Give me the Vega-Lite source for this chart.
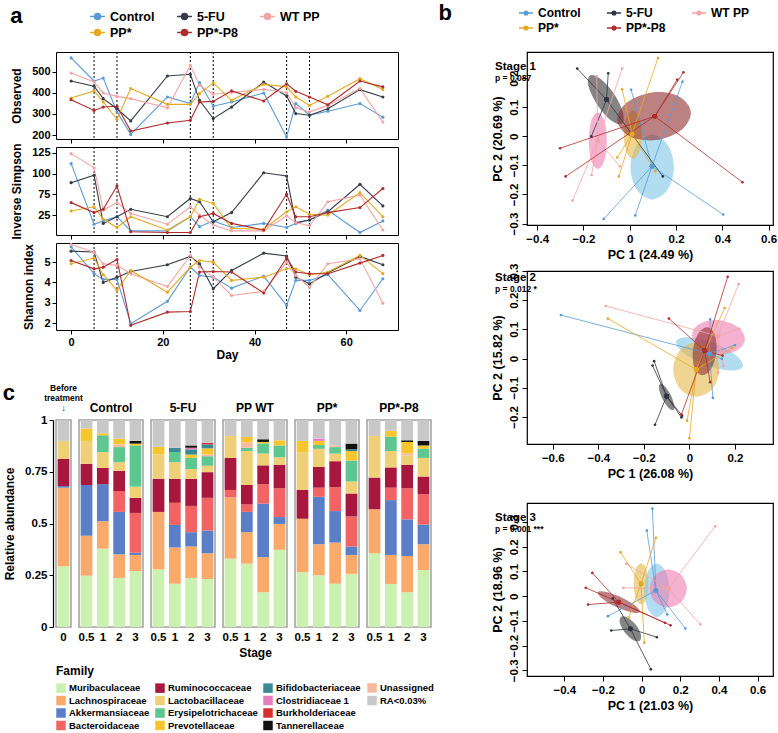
{
"$schema":"https://vega.github.io/schema/vega-lite/v6.json",
"padding":{"left":2,"top":2,"right":2,"bottom":2},
"background":"white",
"config":{
 "font":"Liberation Sans",
 "view":{"stroke":null},
 "axis":{"grid":false,"domain":false,"labelFontWeight":"bold","labelFontSize":11,"labelColor":"black","titleFontWeight":"bold","titleFontSize":12,"titleColor":"black","tickColor":"black","tickSize":4,"labelPadding":2},
 "axisY":{"labelOverlap":false},
 "legend":{"labelFontWeight":"bold","labelColor":"black","titleColor":"black","titleFontWeight":"bold","layout":{"top":{"anchor":"middle"},"bottom":{"anchor":"start","direction":"horizontal","margin":6}}},
 "title":{"color":"black","fontWeight":"bold","subtitleColor":"black"}
},
"datasets":{
 "stages":[{"d":5},{"d":10},{"d":26},{"d":31},{"d":47},{"d":52}],
 "alpha":[
{"d":0,"g":"Control","o":567,"i":112,"s":5.75},{"d":5,"g":"Control","o":457,"i":39,"s":4.43},{"d":7,"g":"Control","o":471,"i":43,"s":4.15},{"d":10,"g":"Control","o":310,"i":48,"s":4.15},{"d":13,"g":"Control","o":203,"i":31,"s":1.97},{"d":21,"g":"Control","o":381,"i":31,"s":3.07},{"d":26,"g":"Control","o":350,"i":48,"s":4.75},{"d":28,"g":"Control","o":450,"i":36,"s":4.34},{"d":31,"g":"Control","o":337,"i":43,"s":4.26},{"d":35,"g":"Control","o":357,"i":35,"s":3.72},{"d":42,"g":"Control","o":400,"i":40,"s":4.31},{"d":47,"g":"Control","o":190,"i":35,"s":2.87},{"d":49,"g":"Control","o":350,"i":40,"s":4.1},{"d":52,"g":"Control","o":295,"i":44,"s":4.1},{"d":56,"g":"Control","o":313,"i":56,"s":4.38},{"d":63,"g":"Control","o":350,"i":29,"s":2.62},{"d":68,"g":"Control","o":285,"i":43,"s":4.18},
{"d":0,"g":"5-FU","o":457,"i":89,"s":5.54},{"d":5,"g":"5-FU","o":432,"i":98,"s":5.5},{"d":7,"g":"5-FU","o":373,"i":40,"s":4.0},{"d":10,"g":"5-FU","o":325,"i":48,"s":4.26},{"d":13,"g":"5-FU","o":267,"i":57,"s":4.54},{"d":21,"g":"5-FU","o":481,"i":48,"s":4.87},{"d":26,"g":"5-FU","o":489,"i":70,"s":5.28},{"d":28,"g":"5-FU","o":365,"i":66,"s":4.92},{"d":31,"g":"5-FU","o":278,"i":42,"s":3.69},{"d":35,"g":"5-FU","o":333,"i":53,"s":4.59},{"d":42,"g":"5-FU","o":452,"i":101,"s":5.44},{"d":47,"g":"5-FU","o":386,"i":97,"s":5.3},{"d":49,"g":"5-FU","o":302,"i":41,"s":4.26},{"d":52,"g":"5-FU","o":294,"i":44,"s":3.93},{"d":56,"g":"5-FU","o":325,"i":54,"s":4.48},{"d":63,"g":"5-FU","o":416,"i":87,"s":5.28},{"d":68,"g":"5-FU","o":381,"i":61,"s":4.87},
{"d":0,"g":"WT PP","o":495,"i":124,"s":5.87},{"d":5,"g":"WT PP","o":452,"i":107,"s":5.49},{"d":7,"g":"WT PP","o":400,"i":56,"s":4.92},{"d":10,"g":"WT PP","o":384,"i":65,"s":4.84},{"d":13,"g":"WT PP","o":373,"i":52,"s":4.43},{"d":21,"g":"WT PP","o":329,"i":39,"s":3.8},{"d":26,"g":"WT PP","o":532,"i":60,"s":5.33},{"d":28,"g":"WT PP","o":437,"i":50,"s":4.75},{"d":31,"g":"WT PP","o":394,"i":38,"s":4.26},{"d":35,"g":"WT PP","o":402,"i":31,"s":3.36},{"d":42,"g":"WT PP","o":417,"i":31,"s":3.56},{"d":47,"g":"WT PP","o":402,"i":49,"s":5.0},{"d":49,"g":"WT PP","o":329,"i":41,"s":4.34},{"d":52,"g":"WT PP","o":310,"i":37,"s":3.77},{"d":56,"g":"WT PP","o":341,"i":66,"s":4.92},{"d":63,"g":"WT PP","o":421,"i":74,"s":5.16},{"d":68,"g":"WT PP","o":262,"i":32,"s":2.98},
{"d":0,"g":"PP*","o":376,"i":55,"s":4.92},{"d":5,"g":"PP*","o":410,"i":60,"s":5.2},{"d":7,"g":"PP*","o":357,"i":45,"s":4.38},{"d":10,"g":"PP*","o":275,"i":35,"s":3.61},{"d":13,"g":"PP*","o":421,"i":48,"s":4.59},{"d":21,"g":"PP*","o":346,"i":32,"s":3.52},{"d":26,"g":"PP*","o":346,"i":48,"s":4.75},{"d":28,"g":"PP*","o":397,"i":69,"s":5.08},{"d":31,"g":"PP*","o":448,"i":64,"s":5.0},{"d":35,"g":"PP*","o":365,"i":34,"s":4.1},{"d":42,"g":"PP*","o":441,"i":33,"s":4.26},{"d":47,"g":"PP*","o":429,"i":54,"s":4.67},{"d":49,"g":"PP*","o":381,"i":60,"s":4.67},{"d":52,"g":"PP*","o":341,"i":51,"s":4.38},{"d":56,"g":"PP*","o":384,"i":50,"s":4.51},{"d":63,"g":"PP*","o":468,"i":77,"s":5.33},{"d":68,"g":"PP*","o":416,"i":48,"s":4.43},
{"d":0,"g":"PP*-P8","o":368,"i":65,"s":5.08},{"d":5,"g":"PP*-P8","o":317,"i":53,"s":4.67},{"d":7,"g":"PP*-P8","o":333,"i":57,"s":4.75},{"d":10,"g":"PP*-P8","o":337,"i":85,"s":5.13},{"d":13,"g":"PP*-P8","o":219,"i":30,"s":1.89},{"d":21,"g":"PP*-P8","o":257,"i":29,"s":2.54},{"d":26,"g":"PP*-P8","o":270,"i":29,"s":2.57},{"d":28,"g":"PP*-P8","o":357,"i":48,"s":4.51},{"d":31,"g":"PP*-P8","o":360,"i":52,"s":4.54},{"d":35,"g":"PP*-P8","o":410,"i":40,"s":4.51},{"d":42,"g":"PP*-P8","o":362,"i":32,"s":3.48},{"d":47,"g":"PP*-P8","o":444,"i":75,"s":5.2},{"d":49,"g":"PP*-P8","o":408,"i":48,"s":4.51},{"d":52,"g":"PP*-P8","o":381,"i":48,"s":4.43},{"d":56,"g":"PP*-P8","o":344,"i":53,"s":4.43},{"d":63,"g":"PP*-P8","o":457,"i":59,"s":4.95},{"d":68,"g":"PP*-P8","o":429,"i":82,"s":5.33}
 ],
 "fam":[
{"key":"Mur","family":"Muribaculaceae","ord":0},{"key":"Lach","family":"Lachnospiraceae","ord":1},{"key":"Akk","family":"Akkermansiaceae","ord":2},{"key":"Bact","family":"Bacteroidaceae","ord":3},{"key":"Rum","family":"Ruminococcaceae","ord":4},{"key":"Lacto","family":"Lactobacillaceae","ord":5},{"key":"Ery","family":"Erysipelotrichaceae","ord":6},{"key":"Unass","family":"Unassigned","ord":7},{"key":"Prev","family":"Prevotellaceae","ord":8},{"key":"Bif","family":"Bifidobacteriaceae","ord":9},{"key":"Clos","family":"Clostridiaceae 1","ord":10},{"key":"Burk","family":"Burkholderiaceae","ord":11},{"key":"Tann","family":"Tannerellaceae","ord":12},{"key":"RA","family":"RA<0.03%","ord":13}
 ],
 "bars":[
{"g":"Before","s":"0","Mur":0.294,"Lach":0.379,"Akk":0.008,"Rum":0.131,"Lacto":0.087,"RA":0.101},
{"g":"Control","s":"0.5","Mur":0.248,"Lach":0.193,"Akk":0.245,"Rum":0.102,"Lacto":0.111,"Prev":0.06,"RA":0.041},
{"g":"Control","s":"1","Mur":0.379,"Lach":0.132,"Akk":0.179,"Rum":0.078,"Lacto":0.077,"Ery":0.081,"Prev":0.01,"RA":0.064},
{"g":"Control","s":"2","Mur":0.237,"Lach":0.114,"Akk":0.205,"Bact":0.101,"Rum":0.098,"Lacto":0.041,"Ery":0.073,"Unass":0.013,"Prev":0.028,"RA":0.09},
{"g":"Control","s":"3","Mur":0.27,"Lach":0.078,"Akk":0.011,"Bact":0.192,"Rum":0.073,"Lacto":0.054,"Ery":0.199,"Prev":0.009,"Tann":0.013,"RA":0.101},
{"g":"5-FU","s":"0.5","Mur":0.278,"Lach":0.278,"Rum":0.16,"Lacto":0.118,"Prev":0.036,"RA":0.13},
{"g":"5-FU","s":"1","Mur":0.209,"Lach":0.175,"Akk":0.109,"Bact":0.107,"Rum":0.116,"Lacto":0.08,"Ery":0.049,"Bif":0.021,"RA":0.134},
{"g":"5-FU","s":"2","Mur":0.237,"Lach":0.152,"Akk":0.069,"Bact":0.127,"Rum":0.131,"Lacto":0.047,"Ery":0.054,"Prev":0.016,"Bif":0.025,"Clos":0.008,"Tann":0.011,"RA":0.123},
{"g":"5-FU","s":"3","Mur":0.232,"Lach":0.124,"Akk":0.11,"Bact":0.158,"Rum":0.124,"Lacto":0.031,"Ery":0.046,"Unass":0.008,"Prev":0.03,"Bif":0.019,"Burk":0.008,"RA":0.11},
{"g":"PP WT","s":"0.5","Mur":0.33,"Lach":0.296,"Bact":0.036,"Rum":0.155,"Lacto":0.106,"RA":0.077},
{"g":"PP WT","s":"1","Mur":0.306,"Lach":0.152,"Akk":0.098,"Bact":0.036,"Rum":0.094,"Lacto":0.164,"Ery":0.016,"Unass":0.025,"Prev":0.027,"RA":0.082},
{"g":"PP WT","s":"2","Mur":0.168,"Lach":0.17,"Akk":0.258,"Bact":0.094,"Rum":0.091,"Lacto":0.057,"Ery":0.049,"Prev":0.007,"Tann":0.013,"RA":0.093},
{"g":"PP WT","s":"3","Mur":0.373,"Lach":0.125,"Akk":0.033,"Bact":0.139,"Rum":0.114,"Lacto":0.036,"Ery":0.057,"Prev":0.025,"RA":0.098},
{"g":"PP*","s":"0.5","Mur":0.265,"Lach":0.258,"Rum":0.139,"Lacto":0.183,"Prev":0.054,"RA":0.101},
{"g":"PP*","s":"1","Mur":0.25,"Lach":0.15,"Akk":0.229,"Bact":0.044,"Rum":0.1,"Lacto":0.088,"Ery":0.018,"Prev":0.02,"Clos":0.011,"RA":0.09},
{"g":"PP*","s":"2","Mur":0.209,"Lach":0.199,"Akk":0.152,"Bact":0.115,"Rum":0.126,"Lacto":0.037,"Ery":0.031,"Unass":0.008,"RA":0.123},
{"g":"PP*","s":"3","Mur":0.257,"Lach":0.091,"Akk":0.041,"Bact":0.145,"Rum":0.111,"Lacto":0.058,"Ery":0.101,"Prev":0.046,"Bif":0.008,"Tann":0.028,"RA":0.114},
{"g":"PP*-P8","s":"0.5","Mur":0.356,"Lach":0.213,"Rum":0.153,"Lacto":0.201,"RA":0.077},
{"g":"PP*-P8","s":"1","Mur":0.208,"Lach":0.14,"Akk":0.265,"Bact":0.06,"Rum":0.098,"Lacto":0.079,"Ery":0.07,"Prev":0.028,"RA":0.052},
{"g":"PP*-P8","s":"2","Mur":0.168,"Lach":0.175,"Akk":0.177,"Bact":0.15,"Rum":0.114,"Lacto":0.044,"Unass":0.01,"Prev":0.056,"Tann":0.008,"RA":0.098},
{"g":"PP*-P8","s":"3","Mur":0.275,"Lach":0.125,"Akk":0.095,"Bact":0.147,"Rum":0.085,"Lacto":0.09,"Ery":0.044,"Prev":0.016,"Tann":0.022,"RA":0.101}
 ],
 "pc":[
{"st":1,"g":"Control","x":0.006,"y":0.16,"cx":0.096,"cy":-0.103},{"st":1,"g":"Control","x":0.228,"y":0.188,"cx":0.096,"cy":-0.103},{"st":1,"g":"Control","x":-0.112,"y":-0.284,"cx":0.096,"cy":-0.103},{"st":1,"g":"Control","x":0.024,"y":-0.272,"cx":0.096,"cy":-0.103},{"st":1,"g":"Control","x":0.404,"y":-0.269,"cx":0.096,"cy":-0.103},
{"st":1,"g":"5-FU","x":-0.227,"y":0.233,"cx":-0.1,"cy":0.126},{"st":1,"g":"5-FU","x":-0.093,"y":0.217,"cx":-0.1,"cy":0.126},{"st":1,"g":"5-FU","x":-0.166,"y":0.0,"cx":-0.1,"cy":0.126},{"st":1,"g":"5-FU","x":0.143,"y":-0.138,"cx":-0.1,"cy":0.126},
{"st":1,"g":"WT PP","x":-0.033,"y":0.233,"cx":-0.138,"cy":-0.015},{"st":1,"g":"WT PP","x":-0.143,"y":0.206,"cx":-0.138,"cy":-0.015},{"st":1,"g":"WT PP","x":-0.165,"y":-0.133,"cx":-0.138,"cy":-0.015},{"st":1,"g":"WT PP","x":-0.247,"y":-0.221,"cx":-0.138,"cy":-0.015},{"st":1,"g":"WT PP","x":-0.043,"y":-0.103,"cx":-0.138,"cy":-0.015},
{"st":1,"g":"PP*","x":0.122,"y":0.269,"cx":0.01,"cy":0.008},{"st":1,"g":"PP*","x":-0.033,"y":0.162,"cx":0.01,"cy":0.008},{"st":1,"g":"PP*","x":-0.054,"y":-0.073,"cx":0.01,"cy":0.008},{"st":1,"g":"PP*","x":-0.047,"y":-0.138,"cx":0.01,"cy":0.008},{"st":1,"g":"PP*","x":0.11,"y":-0.12,"cx":0.01,"cy":0.008},
{"st":1,"g":"PP*-P8","x":0.232,"y":0.22,"cx":0.108,"cy":0.069},{"st":1,"g":"PP*-P8","x":0.205,"y":0.195,"cx":0.108,"cy":0.069},{"st":1,"g":"PP*-P8","x":-0.301,"y":-0.041,"cx":0.108,"cy":0.069},{"st":1,"g":"PP*-P8","x":-0.277,"y":-0.138,"cx":0.108,"cy":0.069},{"st":1,"g":"PP*-P8","x":0.487,"y":-0.158,"cx":0.108,"cy":0.069},
{"st":2,"g":"Control","x":-0.564,"y":0.149,"cx":0.088,"cy":0.016},{"st":2,"g":"Control","x":0.2,"y":0.046,"cx":0.088,"cy":0.016},{"st":2,"g":"Control","x":0.091,"y":0.134,"cx":0.088,"cy":0.016},{"st":2,"g":"Control","x":0.103,"y":-0.135,"cx":0.088,"cy":0.016},{"st":2,"g":"Control","x":0.142,"y":-0.001,"cx":0.088,"cy":0.016},
{"st":2,"g":"5-FU","x":-0.155,"y":-0.009,"cx":-0.1,"cy":-0.129},{"st":2,"g":"5-FU","x":-0.162,"y":-0.024,"cx":-0.1,"cy":-0.129},{"st":2,"g":"5-FU","x":-0.151,"y":-0.227,"cx":-0.1,"cy":-0.129},{"st":2,"g":"5-FU","x":-0.035,"y":-0.202,"cx":-0.1,"cy":-0.129},{"st":2,"g":"5-FU","x":-0.032,"y":-0.196,"cx":-0.1,"cy":-0.129},
{"st":2,"g":"WT PP","x":-0.367,"y":0.18,"cx":0.125,"cy":0.077},{"st":2,"g":"WT PP","x":0.216,"y":0.255,"cx":0.125,"cy":0.077},{"st":2,"g":"WT PP","x":0.219,"y":0.102,"cx":0.125,"cy":0.077},{"st":2,"g":"WT PP","x":0.149,"y":-0.026,"cx":0.125,"cy":0.077},{"st":2,"g":"WT PP","x":0.125,"y":-0.049,"cx":0.125,"cy":0.077},
{"st":2,"g":"PP*","x":-0.358,"y":0.137,"cx":0.03,"cy":-0.038},{"st":2,"g":"PP*","x":-0.01,"y":-0.213,"cx":0.03,"cy":-0.038},{"st":2,"g":"PP*","x":0.0,"y":-0.273,"cx":0.03,"cy":-0.038},{"st":2,"g":"PP*","x":0.155,"y":0.173,"cx":0.03,"cy":-0.038},{"st":2,"g":"PP*","x":0.188,"y":0.037,"cx":0.03,"cy":-0.038},
{"st":2,"g":"PP*-P8","x":-0.09,"y":0.137,"cx":0.067,"cy":0.027},{"st":2,"g":"PP*-P8","x":0.168,"y":0.28,"cx":0.067,"cy":0.027},{"st":2,"g":"PP*-P8","x":0.146,"y":0.01,"cx":0.067,"cy":0.027},{"st":2,"g":"PP*-P8","x":0.091,"y":-0.081,"cx":0.067,"cy":0.027},{"st":2,"g":"PP*-P8","x":-0.035,"y":-0.192,"cx":0.067,"cy":0.027},
{"st":3,"g":"Control","x":0.056,"y":0.354,"cx":0.074,"cy":0.023},{"st":3,"g":"Control","x":0.027,"y":0.265,"cx":0.074,"cy":0.023},{"st":3,"g":"Control","x":-0.174,"y":-0.081,"cx":0.074,"cy":0.023},{"st":3,"g":"Control","x":0.227,"y":-0.131,"cx":0.074,"cy":0.023},{"st":3,"g":"Control","x":0.133,"y":-0.074,"cx":0.074,"cy":0.023},
{"st":3,"g":"5-FU","x":-0.149,"y":-0.009,"cx":-0.058,"cy":-0.132},{"st":3,"g":"5-FU","x":-0.157,"y":-0.139,"cx":-0.058,"cy":-0.132},{"st":3,"g":"5-FU","x":0.079,"y":-0.166,"cx":-0.058,"cy":-0.132},{"st":3,"g":"5-FU","x":0.048,"y":-0.296,"cx":-0.058,"cy":-0.132},
{"st":3,"g":"WT PP","x":0.381,"y":0.283,"cx":0.138,"cy":0.03},{"st":3,"g":"WT PP","x":-0.08,"y":0.131,"cx":0.138,"cy":0.03},{"st":3,"g":"WT PP","x":-0.094,"y":0.034,"cx":0.138,"cy":0.03},{"st":3,"g":"WT PP","x":0.304,"y":-0.114,"cx":0.138,"cy":0.03},
{"st":3,"g":"PP*","x":-0.109,"y":0.178,"cx":-0.003,"cy":0.05},{"st":3,"g":"PP*","x":0.074,"y":0.236,"cx":-0.003,"cy":0.05},{"st":3,"g":"PP*","x":0.014,"y":-0.188,"cx":-0.003,"cy":0.05},{"st":3,"g":"PP*","x":-0.067,"y":-0.087,"cx":-0.003,"cy":0.05},
{"st":3,"g":"PP*-P8","x":-0.255,"y":0.094,"cx":-0.118,"cy":-0.024},{"st":3,"g":"PP*-P8","x":-0.289,"y":0.034,"cx":-0.118,"cy":-0.024},{"st":3,"g":"PP*-P8","x":-0.277,"y":-0.034,"cx":-0.118,"cy":-0.024},{"st":3,"g":"PP*-P8","x":0.15,"y":-0.118,"cx":-0.118,"cy":-0.024},{"st":3,"g":"PP*-P8","x":0.121,"y":-0.108,"cx":-0.118,"cy":-0.024}
 ],
 "ell":[
{"st":1,"g":"Control","k":0,"x":0.191,"y":-0.106},{"st":1,"g":"Control","k":1,"x":0.163,"y":-0.028},{"st":1,"g":"Control","k":2,"x":0.097,"y":0.005},{"st":1,"g":"Control","k":3,"x":0.031,"y":-0.028},{"st":1,"g":"Control","k":4,"x":0.003,"y":-0.106},{"st":1,"g":"Control","k":5,"x":0.031,"y":-0.184},{"st":1,"g":"Control","k":6,"x":0.097,"y":-0.217},{"st":1,"g":"Control","k":7,"x":0.163,"y":-0.184},
{"st":1,"g":"5-FU","k":0,"x":-0.034,"y":0.043},{"st":1,"g":"5-FU","k":1,"x":-0.029,"y":0.081},{"st":1,"g":"5-FU","k":2,"x":-0.067,"y":0.145},{"st":1,"g":"5-FU","k":3,"x":-0.127,"y":0.198},{"st":1,"g":"5-FU","k":4,"x":-0.172,"y":0.209},{"st":1,"g":"5-FU","k":5,"x":-0.178,"y":0.171},{"st":1,"g":"5-FU","k":6,"x":-0.139,"y":0.107},{"st":1,"g":"5-FU","k":7,"x":-0.08,"y":0.054},
{"st":1,"g":"WT PP","k":0,"x":-0.099,"y":-0.015},{"st":1,"g":"WT PP","k":1,"x":-0.11,"y":0.054},{"st":1,"g":"WT PP","k":2,"x":-0.138,"y":0.082},{"st":1,"g":"WT PP","k":3,"x":-0.166,"y":0.054},{"st":1,"g":"WT PP","k":4,"x":-0.177,"y":-0.015},{"st":1,"g":"WT PP","k":5,"x":-0.166,"y":-0.084},{"st":1,"g":"WT PP","k":6,"x":-0.138,"y":-0.112},{"st":1,"g":"WT PP","k":7,"x":-0.11,"y":-0.084},
{"st":1,"g":"PP*","k":0,"x":0.052,"y":0.006},{"st":1,"g":"PP*","k":1,"x":0.041,"y":0.065},{"st":1,"g":"PP*","k":2,"x":0.013,"y":0.089},{"st":1,"g":"PP*","k":3,"x":-0.015,"y":0.065},{"st":1,"g":"PP*","k":4,"x":-0.026,"y":0.006},{"st":1,"g":"PP*","k":5,"x":-0.015,"y":-0.053},{"st":1,"g":"PP*","k":6,"x":0.013,"y":-0.077},{"st":1,"g":"PP*","k":7,"x":0.041,"y":-0.053},
{"st":1,"g":"PP*-P8","k":0,"x":0.264,"y":0.084},{"st":1,"g":"PP*-P8","k":1,"x":0.211,"y":0.138},{"st":1,"g":"PP*-P8","k":2,"x":0.097,"y":0.151},{"st":1,"g":"PP*-P8","k":3,"x":-0.013,"y":0.116},{"st":1,"g":"PP*-P8","k":4,"x":-0.054,"y":0.054},{"st":1,"g":"PP*-P8","k":5,"x":-0.001,"y":0.0},{"st":1,"g":"PP*-P8","k":6,"x":0.113,"y":-0.013},{"st":1,"g":"PP*-P8","k":7,"x":0.223,"y":0.022},
{"st":2,"g":"Control","k":0,"x":0.234,"y":-0.028},{"st":2,"g":"Control","k":1,"x":0.204,"y":0.011},{"st":2,"g":"Control","k":2,"x":0.106,"y":0.053},{"st":2,"g":"Control","k":3,"x":-0.002,"y":0.073},{"st":2,"g":"Control","k":4,"x":-0.058,"y":0.06},{"st":2,"g":"Control","k":5,"x":-0.028,"y":0.021},{"st":2,"g":"Control","k":6,"x":0.07,"y":-0.021},{"st":2,"g":"Control","k":7,"x":0.178,"y":-0.041},
{"st":2,"g":"5-FU","k":0,"x":-0.071,"y":-0.177},{"st":2,"g":"5-FU","k":1,"x":-0.067,"y":-0.159},{"st":2,"g":"5-FU","k":2,"x":-0.082,"y":-0.125},{"st":2,"g":"5-FU","k":3,"x":-0.108,"y":-0.095},{"st":2,"g":"5-FU","k":4,"x":-0.129,"y":-0.087},{"st":2,"g":"5-FU","k":5,"x":-0.133,"y":-0.105},{"st":2,"g":"5-FU","k":6,"x":-0.118,"y":-0.139},{"st":2,"g":"5-FU","k":7,"x":-0.092,"y":-0.169},
{"st":2,"g":"WT PP","k":0,"x":0.244,"y":0.064},{"st":2,"g":"WT PP","k":1,"x":0.214,"y":0.107},{"st":2,"g":"WT PP","k":2,"x":0.133,"y":0.131},{"st":2,"g":"WT PP","k":3,"x":0.05,"y":0.121},{"st":2,"g":"WT PP","k":4,"x":0.012,"y":0.084},{"st":2,"g":"WT PP","k":5,"x":0.042,"y":0.041},{"st":2,"g":"WT PP","k":6,"x":0.123,"y":0.017},{"st":2,"g":"WT PP","k":7,"x":0.206,"y":0.027},
{"st":2,"g":"PP*","k":0,"x":0.131,"y":-0.038},{"st":2,"g":"PP*","k":1,"x":0.101,"y":0.028},{"st":2,"g":"PP*","k":2,"x":0.03,"y":0.055},{"st":2,"g":"PP*","k":3,"x":-0.041,"y":0.028},{"st":2,"g":"PP*","k":4,"x":-0.071,"y":-0.038},{"st":2,"g":"PP*","k":5,"x":-0.041,"y":-0.104},{"st":2,"g":"PP*","k":6,"x":0.03,"y":-0.131},{"st":2,"g":"PP*","k":7,"x":0.101,"y":-0.104},
{"st":2,"g":"PP*-P8","k":0,"x":0.119,"y":0.025},{"st":2,"g":"PP*-P8","k":1,"x":0.111,"y":0.083},{"st":2,"g":"PP*-P8","k":2,"x":0.077,"y":0.107},{"st":2,"g":"PP*-P8","k":3,"x":0.037,"y":0.083},{"st":2,"g":"PP*-P8","k":4,"x":0.015,"y":0.025},{"st":2,"g":"PP*-P8","k":5,"x":0.023,"y":-0.033},{"st":2,"g":"PP*-P8","k":6,"x":0.057,"y":-0.057},{"st":2,"g":"PP*-P8","k":7,"x":0.097,"y":-0.033},
{"st":3,"g":"PP*","k":0,"x":0.035,"y":0.05},{"st":3,"g":"PP*","k":1,"x":0.024,"y":0.109},{"st":3,"g":"PP*","k":2,"x":-0.003,"y":0.133},{"st":3,"g":"PP*","k":3,"x":-0.03,"y":0.109},{"st":3,"g":"PP*","k":4,"x":-0.041,"y":0.05},{"st":3,"g":"PP*","k":5,"x":-0.03,"y":-0.009},{"st":3,"g":"PP*","k":6,"x":-0.003,"y":-0.033},{"st":3,"g":"PP*","k":7,"x":0.024,"y":-0.009},
{"st":3,"g":"Control","k":0,"x":0.144,"y":0.023},{"st":3,"g":"Control","k":1,"x":0.125,"y":0.099},{"st":3,"g":"Control","k":2,"x":0.079,"y":0.131},{"st":3,"g":"Control","k":3,"x":0.033,"y":0.099},{"st":3,"g":"Control","k":4,"x":0.014,"y":0.023},{"st":3,"g":"Control","k":5,"x":0.033,"y":-0.053},{"st":3,"g":"Control","k":6,"x":0.079,"y":-0.085},{"st":3,"g":"Control","k":7,"x":0.125,"y":-0.053},
{"st":3,"g":"WT PP","k":0,"x":0.234,"y":0.031},{"st":3,"g":"WT PP","k":1,"x":0.206,"y":0.085},{"st":3,"g":"WT PP","k":2,"x":0.138,"y":0.108},{"st":3,"g":"WT PP","k":3,"x":0.07,"y":0.085},{"st":3,"g":"WT PP","k":4,"x":0.042,"y":0.031},{"st":3,"g":"WT PP","k":5,"x":0.07,"y":-0.023},{"st":3,"g":"WT PP","k":6,"x":0.138,"y":-0.046},{"st":3,"g":"WT PP","k":7,"x":0.206,"y":-0.023},
{"st":3,"g":"PP*-P8","k":0,"x":-0.009,"y":-0.064},{"st":3,"g":"PP*-P8","k":1,"x":-0.033,"y":-0.038},{"st":3,"g":"PP*-P8","k":2,"x":-0.106,"y":-0.004},{"st":3,"g":"PP*-P8","k":3,"x":-0.187,"y":0.018},{"st":3,"g":"PP*-P8","k":4,"x":-0.227,"y":0.016},{"st":3,"g":"PP*-P8","k":5,"x":-0.203,"y":-0.01},{"st":3,"g":"PP*-P8","k":6,"x":-0.13,"y":-0.044},{"st":3,"g":"PP*-P8","k":7,"x":-0.049,"y":-0.066},
{"st":3,"g":"5-FU","k":0,"x":-0.009,"y":-0.18},{"st":3,"g":"5-FU","k":1,"x":-0.004,"y":-0.154},{"st":3,"g":"5-FU","k":2,"x":-0.031,"y":-0.115},{"st":3,"g":"5-FU","k":3,"x":-0.074,"y":-0.086},{"st":3,"g":"5-FU","k":4,"x":-0.107,"y":-0.084},{"st":3,"g":"5-FU","k":5,"x":-0.112,"y":-0.11},{"st":3,"g":"5-FU","k":6,"x":-0.085,"y":-0.149},{"st":3,"g":"5-FU","k":7,"x":-0.042,"y":-0.178}
 ]
},
"spacing":4,
"resolve":{"scale":{"color":"independent","fill":"independent"},"legend":{"color":"independent","fill":"independent"}},
"hconcat":[
 {
  "spacing":20,
  "resolve":{"scale":{"color":"independent","fill":"independent"},"legend":{"color":"independent","fill":"independent"}},
  "vconcat":[
   {
    "title":{"text":"a","anchor":"start","frame":"bounds","fontSize":22,"offset":-20},
    "bounds":"flush",
    "spacing":8,
    "vconcat":[
     {
      "width":342,"height":87,
      "view":{"stroke":"black","strokeWidth":1},
      "layer":[
       {"data":{"name":"stages"},"mark":{"type":"rule","strokeDash":[2,2],"color":"black","strokeWidth":1},
        "encoding":{"x":{"field":"d","type":"quantitative","scale":{"domain":[-3.3,71.3],"nice":false,"zero":false},"axis":{"title":null,"labels":false,"values":[0,20,40,60],"tickCount":20}}}},
       {"data":{"name":"alpha"},"mark":{"type":"line","strokeWidth":1.1,"point":{"filled":true,"size":10}},
        "encoding":{
         "x":{"field":"d","type":"quantitative","scale":{"domain":[-3.3,71.3],"nice":false,"zero":false},"axis":{"title":null,"labels":false,"values":[0,20,40,60],"tickCount":20}},
         "y":{"field":"o","type":"quantitative","scale":{"domain":[181,595],"nice":false,"zero":false},"axis":{"title":"Observed","values":[200,300,400,500],"tickCount":20,"format":"d","titlePadding":8}},
         "color":{"field":"g","type":"nominal","scale":{"domain":["Control","5-FU","WT PP","PP*","PP*-P8"],"range":["#5b9bd5","#363c48","#f4a4a4","#e6aa22","#b02c2c"]},
          "legend":{"title":null,"orient":"top","columns":3,"labelFontSize":12.5,"symbolType":"M-1,0H1M0.4,0A0.4,0.4,0,1,1,-0.4,0A0.4,0.4,0,1,1,0.4,0","symbolSize":220,"symbolStrokeWidth":1.6,"columnPadding":18,"rowPadding":1,"offset":12}}}}
      ]
     },
     {
      "width":342,"height":88,
      "view":{"stroke":"black","strokeWidth":1},
      "layer":[
       {"data":{"name":"stages"},"mark":{"type":"rule","strokeDash":[2,2],"color":"black","strokeWidth":1},
        "encoding":{"x":{"field":"d","type":"quantitative","scale":{"domain":[-3.3,71.3],"nice":false,"zero":false},"axis":{"title":null,"labels":false,"values":[0,20,40,60],"tickCount":20}}}},
       {"data":{"name":"alpha"},"mark":{"type":"line","strokeWidth":1.1,"point":{"filled":true,"size":10}},
        "encoding":{
         "x":{"field":"d","type":"quantitative","scale":{"domain":[-3.3,71.3],"nice":false,"zero":false},"axis":{"title":null,"labels":false,"values":[0,20,40,60],"tickCount":20}},
         "y":{"field":"i","type":"quantitative","scale":{"domain":[26,132],"nice":false,"zero":false},"axis":{"title":"Inverse Simpson","values":[50,75,100,125],"tickCount":20,"format":"d","labelExpr":"datum.value == 50 ? '25' : datum.label","titlePadding":8}},
         "color":{"field":"g","type":"nominal","scale":{"domain":["Control","5-FU","WT PP","PP*","PP*-P8"],"range":["#5b9bd5","#363c48","#f4a4a4","#e6aa22","#b02c2c"]},
          "legend":{"title":null,"orient":"top","columns":3,"labelFontSize":12.5,"symbolType":"M-1,0H1M0.4,0A0.4,0.4,0,1,1,-0.4,0A0.4,0.4,0,1,1,0.4,0","symbolSize":220,"symbolStrokeWidth":1.6,"columnPadding":18,"rowPadding":1,"offset":12}}}}
      ]
     },
     {
      "width":342,"height":87,
      "view":{"stroke":"black","strokeWidth":1},
      "layer":[
       {"data":{"name":"stages"},"mark":{"type":"rule","strokeDash":[2,2],"color":"black","strokeWidth":1},
        "encoding":{"x":{"field":"d","type":"quantitative","scale":{"domain":[-3.3,71.3],"nice":false,"zero":false},"axis":{"title":"Day","values":[0,20,40,60],"tickCount":20,"format":"d","titlePadding":2}}}},
       {"data":{"name":"alpha"},"mark":{"type":"line","strokeWidth":1.1,"point":{"filled":true,"size":10}},
        "encoding":{
         "x":{"field":"d","type":"quantitative","scale":{"domain":[-3.3,71.3],"nice":false,"zero":false},"axis":{"title":"Day","values":[0,20,40,60],"tickCount":20,"format":"d","titlePadding":2}},
         "y":{"field":"s","type":"quantitative","scale":{"domain":[1.66,5.94],"nice":false,"zero":false},"axis":{"title":"Shannon index","values":[2,3,4,5],"tickCount":20,"format":"d","titlePadding":8}},
         "color":{"field":"g","type":"nominal","scale":{"domain":["Control","5-FU","WT PP","PP*","PP*-P8"],"range":["#5b9bd5","#363c48","#f4a4a4","#e6aa22","#b02c2c"]},
          "legend":{"title":null,"orient":"top","columns":3,"labelFontSize":12.5,"symbolType":"M-1,0H1M0.4,0A0.4,0.4,0,1,1,-0.4,0A0.4,0.4,0,1,1,0.4,0","symbolSize":220,"symbolStrokeWidth":1.6,"columnPadding":18,"rowPadding":1,"offset":12}}}}
      ]
     }
    ]
   },
   {
    "title":{"text":"c","anchor":"start","frame":"bounds","fontSize":22,"offset":-22},
    "bounds":"flush",
    "spacing":8,
    "resolve":{"scale":{"color":"shared","fill":"shared"}},
    "hconcat":[
     {
      "width":15,"height":207,
      "view":{"stroke":"#a0a0a0","strokeWidth":1.5},
      "title":{"text":["Before","treatment","↓"],"fontSize":8.5,"lineHeight":10,"offset":2},
      "data":{"name":"bars"},
      "transform":[
       {"filter":"datum.g == 'Before'"},
       {"fold":["Mur","Lach","Akk","Bact","Rum","Lacto","Ery","Unass","Prev","Bif","Clos","Burk","Tann","RA"],"as":["key","v"]},
       {"filter":"isValid(datum.v)"},
       {"lookup":"key","from":{"data":{"name":"fam"},"key":"key","fields":["family","ord"]}},
       {"stack":"v","groupby":["s"],"sort":[{"field":"ord","order":"ascending"}],"as":["y0","y1"]}
      ],
      "encoding":{
       "x":{"field":"s","type":"nominal","scale":{"paddingInner":0.28,"paddingOuter":0.1},"axis":{"title":null,"labelAngle":0,"ticks":false,"labelPadding":4,"labelFontSize":11.5}},
       "y":{"field":"y0","type":"quantitative","scale":{"domain":[0,1],"nice":false},"axis":{"title":"Relative abundance","values":[0,0.25,0.5,0.75,1],"tickCount":20,"format":".2~f","domain":true,"domainColor":"black","domainWidth":1.2,"offset":3,"titlePadding":8,"labelFontSize":11.5}},
       "y2":{"field":"y1"}
      },
      "layer":[
       {"transform":[{"filter":"datum.key != 'Unass' && datum.key != 'RA'"}],"mark":{"type":"bar"},
        "encoding":{"color":{"field":"family","type":"nominal","scale":{"domain":["Muribaculaceae","Ruminococcaceae","Bifidobacteriaceae","Lachnospiraceae","Lactobacillaceae","Clostridiaceae 1","Akkermansiaceae","Erysipelotrichaceae","Burkholderiaceae","Bacteroidaceae","Prevotellaceae","Tannerellaceae"],"range":["#ccf0b0","#a8183e","#3a8a93","#f9aa6b","#efd077","#e77cbc","#5a7fc6","#5ec68f","#d82e2e","#f26464","#f7c62f","#111111"]},
         "legend":{"title":"Family","orient":"bottom","columns":3,"symbolType":"square","symbolSize":90,"labelFontSize":9.5,"labelOffset":3,"titleFontSize":12,"columnPadding":5,"rowPadding":2.5,"symbolStrokeWidth":0,"offset":6}}}},
       {"transform":[{"filter":"datum.key == 'Unass' || datum.key == 'RA'"}],"mark":{"type":"bar"},
        "encoding":{"fill":{"field":"family","type":"nominal","scale":{"domain":["Unassigned","RA<0.03%"],"range":["#f9b9a0","#c8c8c8"]},
         "legend":{"title":" ","orient":"bottom","columns":1,"symbolType":"square","symbolSize":90,"labelFontSize":9.5,"labelOffset":3,"titleFontSize":12,"rowPadding":2.5,"symbolStrokeWidth":0,"offset":6}}}}
      ]
     },
     {
      "width":64,"height":207,
      "view":{"stroke":"#a0a0a0","strokeWidth":1.5},
      "title":{"text":"Control","fontSize":12,"offset":5},
      "data":{"name":"bars"},
      "transform":[
       {"filter":"datum.g == 'Control'"},
       {"fold":["Mur","Lach","Akk","Bact","Rum","Lacto","Ery","Unass","Prev","Bif","Clos","Burk","Tann","RA"],"as":["key","v"]},
       {"filter":"isValid(datum.v)"},
       {"lookup":"key","from":{"data":{"name":"fam"},"key":"key","fields":["family","ord"]}},
       {"stack":"v","groupby":["s"],"sort":[{"field":"ord","order":"ascending"}],"as":["y0","y1"]}
      ],
      "encoding":{
       "x":{"field":"s","type":"nominal","sort":["0.5","1","2","3"],"scale":{"paddingInner":0.28,"paddingOuter":0.1},"axis":{"title":null,"labelAngle":0,"ticks":false,"labelPadding":4,"labelFontSize":11.5}},
       "y":{"field":"y0","type":"quantitative","scale":{"domain":[0,1],"nice":false},"axis":null},
       "y2":{"field":"y1"}
      },
      "layer":[
       {"transform":[{"filter":"datum.key != 'Unass' && datum.key != 'RA'"}],"mark":{"type":"bar"},
        "encoding":{"color":{"field":"family","type":"nominal","scale":{"domain":["Muribaculaceae","Ruminococcaceae","Bifidobacteriaceae","Lachnospiraceae","Lactobacillaceae","Clostridiaceae 1","Akkermansiaceae","Erysipelotrichaceae","Burkholderiaceae","Bacteroidaceae","Prevotellaceae","Tannerellaceae"],"range":["#ccf0b0","#a8183e","#3a8a93","#f9aa6b","#efd077","#e77cbc","#5a7fc6","#5ec68f","#d82e2e","#f26464","#f7c62f","#111111"]},
         "legend":{"title":"Family","orient":"bottom","columns":3,"symbolType":"square","symbolSize":90,"labelFontSize":9.5,"labelOffset":3,"titleFontSize":12,"columnPadding":5,"rowPadding":2.5,"symbolStrokeWidth":0,"offset":6}}}},
       {"transform":[{"filter":"datum.key == 'Unass' || datum.key == 'RA'"}],"mark":{"type":"bar"},
        "encoding":{"fill":{"field":"family","type":"nominal","scale":{"domain":["Unassigned","RA<0.03%"],"range":["#f9b9a0","#c8c8c8"]},
         "legend":{"title":" ","orient":"bottom","columns":1,"symbolType":"square","symbolSize":90,"labelFontSize":9.5,"labelOffset":3,"titleFontSize":12,"rowPadding":2.5,"symbolStrokeWidth":0,"offset":6}}}}
      ]
     },
     {
      "width":64,"height":207,
      "view":{"stroke":"#a0a0a0","strokeWidth":1.5},
      "title":{"text":"5-FU","fontSize":12,"offset":5},
      "data":{"name":"bars"},
      "transform":[
       {"filter":"datum.g == '5-FU'"},
       {"fold":["Mur","Lach","Akk","Bact","Rum","Lacto","Ery","Unass","Prev","Bif","Clos","Burk","Tann","RA"],"as":["key","v"]},
       {"filter":"isValid(datum.v)"},
       {"lookup":"key","from":{"data":{"name":"fam"},"key":"key","fields":["family","ord"]}},
       {"stack":"v","groupby":["s"],"sort":[{"field":"ord","order":"ascending"}],"as":["y0","y1"]}
      ],
      "encoding":{
       "x":{"field":"s","type":"nominal","sort":["0.5","1","2","3"],"scale":{"paddingInner":0.28,"paddingOuter":0.1},"axis":{"title":null,"labelAngle":0,"ticks":false,"labelPadding":4,"labelFontSize":11.5}},
       "y":{"field":"y0","type":"quantitative","scale":{"domain":[0,1],"nice":false},"axis":null},
       "y2":{"field":"y1"}
      },
      "layer":[
       {"transform":[{"filter":"datum.key != 'Unass' && datum.key != 'RA'"}],"mark":{"type":"bar"},
        "encoding":{"color":{"field":"family","type":"nominal","scale":{"domain":["Muribaculaceae","Ruminococcaceae","Bifidobacteriaceae","Lachnospiraceae","Lactobacillaceae","Clostridiaceae 1","Akkermansiaceae","Erysipelotrichaceae","Burkholderiaceae","Bacteroidaceae","Prevotellaceae","Tannerellaceae"],"range":["#ccf0b0","#a8183e","#3a8a93","#f9aa6b","#efd077","#e77cbc","#5a7fc6","#5ec68f","#d82e2e","#f26464","#f7c62f","#111111"]},
         "legend":{"title":"Family","orient":"bottom","columns":3,"symbolType":"square","symbolSize":90,"labelFontSize":9.5,"labelOffset":3,"titleFontSize":12,"columnPadding":5,"rowPadding":2.5,"symbolStrokeWidth":0,"offset":6}}}},
       {"transform":[{"filter":"datum.key == 'Unass' || datum.key == 'RA'"}],"mark":{"type":"bar"},
        "encoding":{"fill":{"field":"family","type":"nominal","scale":{"domain":["Unassigned","RA<0.03%"],"range":["#f9b9a0","#c8c8c8"]},
         "legend":{"title":" ","orient":"bottom","columns":1,"symbolType":"square","symbolSize":90,"labelFontSize":9.5,"labelOffset":3,"titleFontSize":12,"rowPadding":2.5,"symbolStrokeWidth":0,"offset":6}}}}
      ]
     },
     {
      "width":64,"height":207,
      "view":{"stroke":"#a0a0a0","strokeWidth":1.5},
      "title":{"text":"PP WT","fontSize":12,"offset":5},
      "data":{"name":"bars"},
      "transform":[
       {"filter":"datum.g == 'PP WT'"},
       {"fold":["Mur","Lach","Akk","Bact","Rum","Lacto","Ery","Unass","Prev","Bif","Clos","Burk","Tann","RA"],"as":["key","v"]},
       {"filter":"isValid(datum.v)"},
       {"lookup":"key","from":{"data":{"name":"fam"},"key":"key","fields":["family","ord"]}},
       {"stack":"v","groupby":["s"],"sort":[{"field":"ord","order":"ascending"}],"as":["y0","y1"]}
      ],
      "encoding":{
       "x":{"field":"s","type":"nominal","sort":["0.5","1","2","3"],"scale":{"paddingInner":0.28,"paddingOuter":0.1},"axis":{"title":"Stage","titlePadding":5,"labelAngle":0,"ticks":false,"labelPadding":4,"labelFontSize":11.5}},
       "y":{"field":"y0","type":"quantitative","scale":{"domain":[0,1],"nice":false},"axis":null},
       "y2":{"field":"y1"}
      },
      "layer":[
       {"transform":[{"filter":"datum.key != 'Unass' && datum.key != 'RA'"}],"mark":{"type":"bar"},
        "encoding":{"color":{"field":"family","type":"nominal","scale":{"domain":["Muribaculaceae","Ruminococcaceae","Bifidobacteriaceae","Lachnospiraceae","Lactobacillaceae","Clostridiaceae 1","Akkermansiaceae","Erysipelotrichaceae","Burkholderiaceae","Bacteroidaceae","Prevotellaceae","Tannerellaceae"],"range":["#ccf0b0","#a8183e","#3a8a93","#f9aa6b","#efd077","#e77cbc","#5a7fc6","#5ec68f","#d82e2e","#f26464","#f7c62f","#111111"]},
         "legend":{"title":"Family","orient":"bottom","columns":3,"symbolType":"square","symbolSize":90,"labelFontSize":9.5,"labelOffset":3,"titleFontSize":12,"columnPadding":5,"rowPadding":2.5,"symbolStrokeWidth":0,"offset":6}}}},
       {"transform":[{"filter":"datum.key == 'Unass' || datum.key == 'RA'"}],"mark":{"type":"bar"},
        "encoding":{"fill":{"field":"family","type":"nominal","scale":{"domain":["Unassigned","RA<0.03%"],"range":["#f9b9a0","#c8c8c8"]},
         "legend":{"title":" ","orient":"bottom","columns":1,"symbolType":"square","symbolSize":90,"labelFontSize":9.5,"labelOffset":3,"titleFontSize":12,"rowPadding":2.5,"symbolStrokeWidth":0,"offset":6}}}}
      ]
     },
     {
      "width":64,"height":207,
      "view":{"stroke":"#a0a0a0","strokeWidth":1.5},
      "title":{"text":"PP*","fontSize":12,"offset":5},
      "data":{"name":"bars"},
      "transform":[
       {"filter":"datum.g == 'PP*'"},
       {"fold":["Mur","Lach","Akk","Bact","Rum","Lacto","Ery","Unass","Prev","Bif","Clos","Burk","Tann","RA"],"as":["key","v"]},
       {"filter":"isValid(datum.v)"},
       {"lookup":"key","from":{"data":{"name":"fam"},"key":"key","fields":["family","ord"]}},
       {"stack":"v","groupby":["s"],"sort":[{"field":"ord","order":"ascending"}],"as":["y0","y1"]}
      ],
      "encoding":{
       "x":{"field":"s","type":"nominal","sort":["0.5","1","2","3"],"scale":{"paddingInner":0.28,"paddingOuter":0.1},"axis":{"title":null,"labelAngle":0,"ticks":false,"labelPadding":4,"labelFontSize":11.5}},
       "y":{"field":"y0","type":"quantitative","scale":{"domain":[0,1],"nice":false},"axis":null},
       "y2":{"field":"y1"}
      },
      "layer":[
       {"transform":[{"filter":"datum.key != 'Unass' && datum.key != 'RA'"}],"mark":{"type":"bar"},
        "encoding":{"color":{"field":"family","type":"nominal","scale":{"domain":["Muribaculaceae","Ruminococcaceae","Bifidobacteriaceae","Lachnospiraceae","Lactobacillaceae","Clostridiaceae 1","Akkermansiaceae","Erysipelotrichaceae","Burkholderiaceae","Bacteroidaceae","Prevotellaceae","Tannerellaceae"],"range":["#ccf0b0","#a8183e","#3a8a93","#f9aa6b","#efd077","#e77cbc","#5a7fc6","#5ec68f","#d82e2e","#f26464","#f7c62f","#111111"]},
         "legend":{"title":"Family","orient":"bottom","columns":3,"symbolType":"square","symbolSize":90,"labelFontSize":9.5,"labelOffset":3,"titleFontSize":12,"columnPadding":5,"rowPadding":2.5,"symbolStrokeWidth":0,"offset":6}}}},
       {"transform":[{"filter":"datum.key == 'Unass' || datum.key == 'RA'"}],"mark":{"type":"bar"},
        "encoding":{"fill":{"field":"family","type":"nominal","scale":{"domain":["Unassigned","RA<0.03%"],"range":["#f9b9a0","#c8c8c8"]},
         "legend":{"title":" ","orient":"bottom","columns":1,"symbolType":"square","symbolSize":90,"labelFontSize":9.5,"labelOffset":3,"titleFontSize":12,"rowPadding":2.5,"symbolStrokeWidth":0,"offset":6}}}}
      ]
     },
     {
      "width":64,"height":207,
      "view":{"stroke":"#a0a0a0","strokeWidth":1.5},
      "title":{"text":"PP*-P8","fontSize":12,"offset":5},
      "data":{"name":"bars"},
      "transform":[
       {"filter":"datum.g == 'PP*-P8'"},
       {"fold":["Mur","Lach","Akk","Bact","Rum","Lacto","Ery","Unass","Prev","Bif","Clos","Burk","Tann","RA"],"as":["key","v"]},
       {"filter":"isValid(datum.v)"},
       {"lookup":"key","from":{"data":{"name":"fam"},"key":"key","fields":["family","ord"]}},
       {"stack":"v","groupby":["s"],"sort":[{"field":"ord","order":"ascending"}],"as":["y0","y1"]}
      ],
      "encoding":{
       "x":{"field":"s","type":"nominal","sort":["0.5","1","2","3"],"scale":{"paddingInner":0.28,"paddingOuter":0.1},"axis":{"title":null,"labelAngle":0,"ticks":false,"labelPadding":4,"labelFontSize":11.5}},
       "y":{"field":"y0","type":"quantitative","scale":{"domain":[0,1],"nice":false},"axis":null},
       "y2":{"field":"y1"}
      },
      "layer":[
       {"transform":[{"filter":"datum.key != 'Unass' && datum.key != 'RA'"}],"mark":{"type":"bar"},
        "encoding":{"color":{"field":"family","type":"nominal","scale":{"domain":["Muribaculaceae","Ruminococcaceae","Bifidobacteriaceae","Lachnospiraceae","Lactobacillaceae","Clostridiaceae 1","Akkermansiaceae","Erysipelotrichaceae","Burkholderiaceae","Bacteroidaceae","Prevotellaceae","Tannerellaceae"],"range":["#ccf0b0","#a8183e","#3a8a93","#f9aa6b","#efd077","#e77cbc","#5a7fc6","#5ec68f","#d82e2e","#f26464","#f7c62f","#111111"]},
         "legend":{"title":"Family","orient":"bottom","columns":3,"symbolType":"square","symbolSize":90,"labelFontSize":9.5,"labelOffset":3,"titleFontSize":12,"columnPadding":5,"rowPadding":2.5,"symbolStrokeWidth":0,"offset":6}}}},
       {"transform":[{"filter":"datum.key == 'Unass' || datum.key == 'RA'"}],"mark":{"type":"bar"},
        "encoding":{"fill":{"field":"family","type":"nominal","scale":{"domain":["Unassigned","RA<0.03%"],"range":["#f9b9a0","#c8c8c8"]},
         "legend":{"title":" ","orient":"bottom","columns":1,"symbolType":"square","symbolSize":90,"labelFontSize":9.5,"labelOffset":3,"titleFontSize":12,"rowPadding":2.5,"symbolStrokeWidth":0,"offset":6}}}}
      ]
     }
    ]
   }
  ]
 },
 {
  "title":{"text":"b","anchor":"start","frame":"bounds","fontSize":22,"offset":-20,"dx":-52},
  "spacing":0,
  "vconcat":[
   {
    "width":246,"height":173,
    "view":{"stroke":"black","strokeWidth":1.2},
    "title":{"text":"Stage 1","subtitle":"p = 0.087","anchor":"start","offset":-30,"dx":4,"fontSize":11.5,"subtitleFontSize":8.5,"subtitleFontWeight":"bold","subtitlePadding":1},
    "layer":[
     {"data":{"name":"ell"},"transform":[{"filter":"datum.st == 1"}],"mark":{"type":"line","interpolate":"cardinal-closed","strokeWidth":0,"fillOpacity":0.6},
      "encoding":{
       "x":{"field":"x","type":"quantitative","scale":{"domain":[-0.444,0.619],"nice":false,"zero":false},"axis":{"title":"PC 1 (24.49 %)","values":[-0.4,-0.2,0,0.2,0.4,0.6],"tickCount":20,"format":"~g","tickSize":5,"labelFontSize":11.5,"titleFontSize":12.5,"labelPadding":3}},
       "y":{"field":"y","type":"quantitative","scale":{"domain":[-0.305,0.29],"nice":false,"zero":false},"axis":{"title":"PC 2 (20.69 %)","values":[-0.3,-0.2,-0.1,0,0.1,0.2],"tickCount":20,"format":"~g","labelAngle":-90,"labelOverlap":false,"tickSize":5,"labelFontSize":11.5,"titleFontSize":12.5,"labelPadding":3}},
       "order":{"field":"k","type":"quantitative"},
       "fill":{"field":"g","type":"nominal","scale":{"domain":["PP*-P8","PP*","WT PP","5-FU","Control"],"range":["#8f2f2f","#e6b84a","#ee7fb0","#333333","#7ec4e6"]},"legend":null}}},
     {"data":{"name":"pc"},"transform":[{"filter":"datum.st == 1"}],"mark":{"type":"rule","strokeWidth":0.8},
      "encoding":{"x":{"field":"x","type":"quantitative"},"y":{"field":"y","type":"quantitative"},"x2":{"field":"cx"},"y2":{"field":"cy"},
       "color":{"field":"g","type":"nominal","scale":{"domain":["Control","5-FU","WT PP","PP*","PP*-P8"],"range":["#5b9bd5","#2f3540","#f4a4a4","#e6aa22","#b02c2c"]},
        "legend":{"title":null,"orient":"top","columns":3,"labelFontSize":12,"symbolType":"M-1,0H1M0.25,0A0.25,0.25,0,1,1,-0.25,0A0.25,0.25,0,1,1,0.25,0","symbolSize":200,"symbolStrokeWidth":1.6,"columnPadding":22,"rowPadding":1,"offset":17}}}},
     {"data":{"name":"pc"},"transform":[{"filter":"datum.st == 1"}],"mark":{"type":"point","filled":true,"size":7,"opacity":1},
      "encoding":{"x":{"field":"x","type":"quantitative"},"y":{"field":"y","type":"quantitative"},
       "color":{"field":"g","type":"nominal","scale":{"domain":["Control","5-FU","WT PP","PP*","PP*-P8"],"range":["#5b9bd5","#2f3540","#f4a4a4","#e6aa22","#b02c2c"]},
        "legend":{"title":null,"orient":"top","columns":3,"labelFontSize":12,"symbolType":"M-1,0H1M0.25,0A0.25,0.25,0,1,1,-0.25,0A0.25,0.25,0,1,1,0.25,0","symbolSize":200,"symbolStrokeWidth":1.6,"columnPadding":22,"rowPadding":1,"offset":17}}}},
     {"data":{"name":"pc"},"transform":[{"filter":"datum.st == 1"}],"mark":{"type":"point","filled":true,"size":22,"opacity":1},
      "encoding":{"x":{"field":"cx","type":"quantitative"},"y":{"field":"cy","type":"quantitative"},
       "color":{"field":"g","type":"nominal","scale":{"domain":["Control","5-FU","WT PP","PP*","PP*-P8"],"range":["#5b9bd5","#2f3540","#f4a4a4","#e6aa22","#b02c2c"]},
        "legend":{"title":null,"orient":"top","columns":3,"labelFontSize":12,"symbolType":"M-1,0H1M0.25,0A0.25,0.25,0,1,1,-0.25,0A0.25,0.25,0,1,1,0.25,0","symbolSize":200,"symbolStrokeWidth":1.6,"columnPadding":22,"rowPadding":1,"offset":17}}}}
    ]
   },
   {
    "spacing":21,
    "vconcat":[
     {
      "width":246,"height":173,
      "view":{"stroke":"black","strokeWidth":1.2},
      "title":{"text":"Stage 2","subtitle":"p = 0.012 *","anchor":"start","offset":-30,"dx":4,"fontSize":11.5,"subtitleFontSize":8.5,"subtitleFontWeight":"bold","subtitlePadding":1},
      "layer":[
       {"data":{"name":"ell"},"transform":[{"filter":"datum.st == 2"}],"mark":{"type":"line","interpolate":"cardinal-closed","strokeWidth":0,"fillOpacity":0.6},
        "encoding":{
         "x":{"field":"x","type":"quantitative","scale":{"domain":[-0.713,0.367],"nice":false,"zero":false},"axis":{"title":"PC 1 (26.08 %)","values":[-0.6,-0.4,-0.2,0,0.2],"tickCount":20,"format":"~g","tickSize":5,"labelFontSize":11.5,"titleFontSize":12.5,"labelPadding":3}},
         "y":{"field":"y","type":"quantitative","scale":{"domain":[-0.293,0.3],"nice":false,"zero":false},"axis":{"title":"PC 2 (15.82 %)","values":[-0.2,-0.1,0,0.1,0.2,0.3],"tickCount":20,"format":"~g","labelAngle":-90,"labelOverlap":false,"tickSize":5,"labelFontSize":11.5,"titleFontSize":12.5,"labelPadding":3}},
         "order":{"field":"k","type":"quantitative"},
         "fill":{"field":"g","type":"nominal","scale":{"domain":["PP*-P8","PP*","WT PP","5-FU","Control"],"range":["#8f2f2f","#e6b84a","#ee7fb0","#333333","#7ec4e6"]},"legend":null}}},
       {"data":{"name":"pc"},"transform":[{"filter":"datum.st == 2"}],"mark":{"type":"rule","strokeWidth":0.8},
        "encoding":{"x":{"field":"x","type":"quantitative"},"y":{"field":"y","type":"quantitative"},"x2":{"field":"cx"},"y2":{"field":"cy"},
         "color":{"field":"g","type":"nominal","scale":{"domain":["Control","5-FU","WT PP","PP*","PP*-P8"],"range":["#5b9bd5","#2f3540","#f4a4a4","#e6aa22","#b02c2c"]},
          "legend":{"title":null,"orient":"top","columns":3,"labelFontSize":12,"symbolType":"M-1,0H1M0.25,0A0.25,0.25,0,1,1,-0.25,0A0.25,0.25,0,1,1,0.25,0","symbolSize":200,"symbolStrokeWidth":1.6,"columnPadding":22,"rowPadding":1,"offset":17}}}},
       {"data":{"name":"pc"},"transform":[{"filter":"datum.st == 2"}],"mark":{"type":"point","filled":true,"size":7,"opacity":1},
        "encoding":{"x":{"field":"x","type":"quantitative"},"y":{"field":"y","type":"quantitative"},
         "color":{"field":"g","type":"nominal","scale":{"domain":["Control","5-FU","WT PP","PP*","PP*-P8"],"range":["#5b9bd5","#2f3540","#f4a4a4","#e6aa22","#b02c2c"]},
          "legend":{"title":null,"orient":"top","columns":3,"labelFontSize":12,"symbolType":"M-1,0H1M0.25,0A0.25,0.25,0,1,1,-0.25,0A0.25,0.25,0,1,1,0.25,0","symbolSize":200,"symbolStrokeWidth":1.6,"columnPadding":22,"rowPadding":1,"offset":17}}}},
       {"data":{"name":"pc"},"transform":[{"filter":"datum.st == 2"}],"mark":{"type":"point","filled":true,"size":22,"opacity":1},
        "encoding":{"x":{"field":"cx","type":"quantitative"},"y":{"field":"cy","type":"quantitative"},
         "color":{"field":"g","type":"nominal","scale":{"domain":["Control","5-FU","WT PP","PP*","PP*-P8"],"range":["#5b9bd5","#2f3540","#f4a4a4","#e6aa22","#b02c2c"]},
          "legend":{"title":null,"orient":"top","columns":3,"labelFontSize":12,"symbolType":"M-1,0H1M0.25,0A0.25,0.25,0,1,1,-0.25,0A0.25,0.25,0,1,1,0.25,0","symbolSize":200,"symbolStrokeWidth":1.6,"columnPadding":22,"rowPadding":1,"offset":17}}}}
      ]
     },
     {
      "width":246,"height":173,
      "view":{"stroke":"black","strokeWidth":1.2},
      "title":{"text":"Stage 3","subtitle":"p = 0.001 ***","anchor":"start","offset":-30,"dx":4,"fontSize":11.5,"subtitleFontSize":8.5,"subtitleFontWeight":"bold","subtitlePadding":1},
      "layer":[
       {"data":{"name":"ell"},"transform":[{"filter":"datum.st == 3"}],"mark":{"type":"line","interpolate":"cardinal-closed","strokeWidth":0,"fillOpacity":0.6},
        "encoding":{
         "x":{"field":"x","type":"quantitative","scale":{"domain":[-0.593,0.68],"nice":false,"zero":false},"axis":{"title":"PC 1 (21.03 %)","values":[-0.4,-0.2,0,0.2,0.4,0.6],"tickCount":20,"format":"~g","tickSize":5,"labelFontSize":11.5,"titleFontSize":12.5,"labelPadding":3}},
         "y":{"field":"y","type":"quantitative","scale":{"domain":[-0.323,0.377],"nice":false,"zero":false},"axis":{"title":"PC 2 (18.96 %)","values":[-0.3,-0.2,-0.1,0,0.1,0.2,0.3],"tickCount":20,"format":"~g","labelAngle":-90,"labelOverlap":false,"tickSize":5,"labelFontSize":11.5,"titleFontSize":12.5,"labelPadding":3}},
         "order":{"field":"k","type":"quantitative"},
         "fill":{"field":"g","type":"nominal","scale":{"domain":["PP*-P8","PP*","WT PP","5-FU","Control"],"range":["#8f2f2f","#e6b84a","#ee7fb0","#333333","#7ec4e6"]},"legend":null}}},
       {"data":{"name":"pc"},"transform":[{"filter":"datum.st == 3"}],"mark":{"type":"rule","strokeWidth":0.8},
        "encoding":{"x":{"field":"x","type":"quantitative"},"y":{"field":"y","type":"quantitative"},"x2":{"field":"cx"},"y2":{"field":"cy"},
         "color":{"field":"g","type":"nominal","scale":{"domain":["Control","5-FU","WT PP","PP*","PP*-P8"],"range":["#5b9bd5","#2f3540","#f4a4a4","#e6aa22","#b02c2c"]},
          "legend":{"title":null,"orient":"top","columns":3,"labelFontSize":12,"symbolType":"M-1,0H1M0.25,0A0.25,0.25,0,1,1,-0.25,0A0.25,0.25,0,1,1,0.25,0","symbolSize":200,"symbolStrokeWidth":1.6,"columnPadding":22,"rowPadding":1,"offset":17}}}},
       {"data":{"name":"pc"},"transform":[{"filter":"datum.st == 3"}],"mark":{"type":"point","filled":true,"size":7,"opacity":1},
        "encoding":{"x":{"field":"x","type":"quantitative"},"y":{"field":"y","type":"quantitative"},
         "color":{"field":"g","type":"nominal","scale":{"domain":["Control","5-FU","WT PP","PP*","PP*-P8"],"range":["#5b9bd5","#2f3540","#f4a4a4","#e6aa22","#b02c2c"]},
          "legend":{"title":null,"orient":"top","columns":3,"labelFontSize":12,"symbolType":"M-1,0H1M0.25,0A0.25,0.25,0,1,1,-0.25,0A0.25,0.25,0,1,1,0.25,0","symbolSize":200,"symbolStrokeWidth":1.6,"columnPadding":22,"rowPadding":1,"offset":17}}}},
       {"data":{"name":"pc"},"transform":[{"filter":"datum.st == 3"}],"mark":{"type":"point","filled":true,"size":22,"opacity":1},
        "encoding":{"x":{"field":"cx","type":"quantitative"},"y":{"field":"cy","type":"quantitative"},
         "color":{"field":"g","type":"nominal","scale":{"domain":["Control","5-FU","WT PP","PP*","PP*-P8"],"range":["#5b9bd5","#2f3540","#f4a4a4","#e6aa22","#b02c2c"]},
          "legend":{"title":null,"orient":"top","columns":3,"labelFontSize":12,"symbolType":"M-1,0H1M0.25,0A0.25,0.25,0,1,1,-0.25,0A0.25,0.25,0,1,1,0.25,0","symbolSize":200,"symbolStrokeWidth":1.6,"columnPadding":22,"rowPadding":1,"offset":17}}}}
      ]
     }
    ]
   }
  ]
 }
]
}
